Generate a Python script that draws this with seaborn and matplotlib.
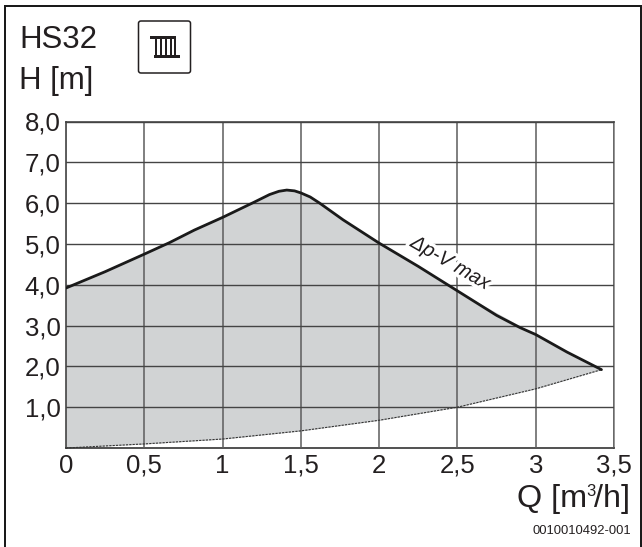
import matplotlib
matplotlib.use("Agg")
import matplotlib.pyplot as plt
import matplotlib.patheffects as pe
from matplotlib.patches import FancyBboxPatch, Rectangle
import numpy as np
import seaborn as sns

q_max = [0, 0.25, 0.5, 0.66, 0.82, 1, 1.2, 1.3, 1.36, 1.41, 1.46, 1.5, 1.56, 1.62, 1.77, 2, 2.25, 2.5, 2.75, 2.9, 3, 3.2, 3.42]
h_max = [3.92, 4.32, 4.75, 5.03, 5.34, 5.65, 6.02, 6.21, 6.29, 6.32, 6.3, 6.25, 6.15, 6.0, 5.59, 5.02, 4.45, 3.85, 3.25, 2.95, 2.78, 2.35, 1.92]
q_min = [0, 0.5, 1, 1.5, 2, 2.5, 3, 3.42]
h_min = [0.0, 0.1, 0.22, 0.42, 0.68, 1.0, 1.45, 1.92]
x_ticks = [0, 0.5, 1, 1.5, 2, 2.5, 3, 3.5]
x_labels = ["0", "0,5", "1", "1,5", "2", "2,5", "3", "3,5"]
y_ticks = [1, 2, 3, 4, 5, 6, 7, 8]
y_labels = ["1,0", "2,0", "3,0", "4,0", "5,0", "6,0", "7,0", "8,0"]

W, H = 642, 547
sns.set_style("white")
plt.rcParams["font.family"] = ["Liberation Sans", "DejaVu Sans"]
TXT = "#231f20"

fig = plt.figure(figsize=(W / 100, H / 100), dpi=100, facecolor="white")
ax = fig.add_axes([66 / W, 1 - 448 / H, (614 - 66) / W, (448 - 121.5) / H])

q_all = np.array(q_max)
ax.fill_between(q_all, h_max, np.interp(q_all, q_min, h_min), color="#d1d3d4", lw=0, zorder=1)
ax.fill_between(q_min, h_min, np.interp(q_min, q_all, h_max), color="#d1d3d4", lw=0, zorder=1)

ax.set_xlim(0, 3.5)
ax.set_ylim(0, 8)
ax.set_xticks(x_ticks)
ax.set_xticklabels(x_labels, fontsize=18.5, color=TXT)
ax.set_yticks(y_ticks)
ax.set_yticklabels(y_labels, fontsize=18.5, color=TXT)
ax.tick_params(length=0, pad=4)
ax.grid(True, axis="y", color="#444444", lw=1.0, zorder=2)
ax.grid(True, axis="x", color="#5c5c5c", lw=1.1, zorder=2)
ax.set_axisbelow(False)
for s, c in [("left", "#333333"), ("bottom", "#222222"), ("top", "#333333"), ("right", "#777777")]:
    ax.spines[s].set_color(c)
    ax.spines[s].set_linewidth(1.1)

sns.lineplot(x=q_min, y=h_min, ax=ax, color="#333333", lw=0.8, ls=(0, (2, 1)), sort=False, zorder=4, clip_on=False)
sns.lineplot(x=q_max, y=h_max, ax=ax, color="#1a1a1a", lw=2.0, sort=False, zorder=5)

ax.text(2.455, 4.53, "Δp-V max", rotation=-30, rotation_mode="anchor", ha="center", va="center",
        fontsize=14.5, style="italic", color=TXT, zorder=6,
        path_effects=[pe.withStroke(linewidth=5, foreground="white")])

fig.text(19 / W, 1 - 48 / H, "HS32", fontsize=22.5, color=TXT)
fig.text(19 / W, 1 - 89 / H, "H [m]", fontsize=22.5, color=TXT)
# x-axis title, built from pieces so that the superscript stays small
fig.text(630.5 / W, 1 - 507 / H, "/h]", fontsize=23.3, color=TXT, ha="right", va="baseline")
fig.text(596 / W, 1 - 496 / H, "3", fontsize=12, color=TXT, ha="right", va="baseline")
fig.text(587 / W, 1 - 507 / H, "Q [m", fontsize=23.3, color=TXT, ha="right", va="baseline")
fig.text(631 / W, 1 - 534 / H, "0010010492-001", fontsize=9.4, color=TXT, ha="right", va="baseline")


def px_rect(x0, y0, x1, y1, **kw):
    fig.add_artist(Rectangle((x0 / W, 1 - y1 / H), (x1 - x0) / W, (y1 - y0) / H,
                             transform=fig.transFigure, **kw))


# outer frame
for r in [(4, 5, 6, 547), (4, 5, 642, 7), (640, 5, 642, 547)]:
    px_rect(*r, fc="#1a1a1a", lw=0)

# pictogram
fig.add_artist(FancyBboxPatch((138.5 / W, 1 - 73 / H), 52 / W, 52 / H, transform=fig.transFigure,
                              boxstyle="round,pad=0,rounding_size=0.004", fc="white", ec="#231f20", lw=1.1))
px_rect(150, 36, 176, 39, fc="#231f20", lw=0)
px_rect(154, 55, 180, 57.5, fc="#231f20", lw=0)
for x in [154.5, 159.5, 164.5, 169.5, 173.8]:
    px_rect(x, 37, x + 2.2, 56, fc="#231f20", lw=0)

fig.savefig("out.png", dpi=100)
